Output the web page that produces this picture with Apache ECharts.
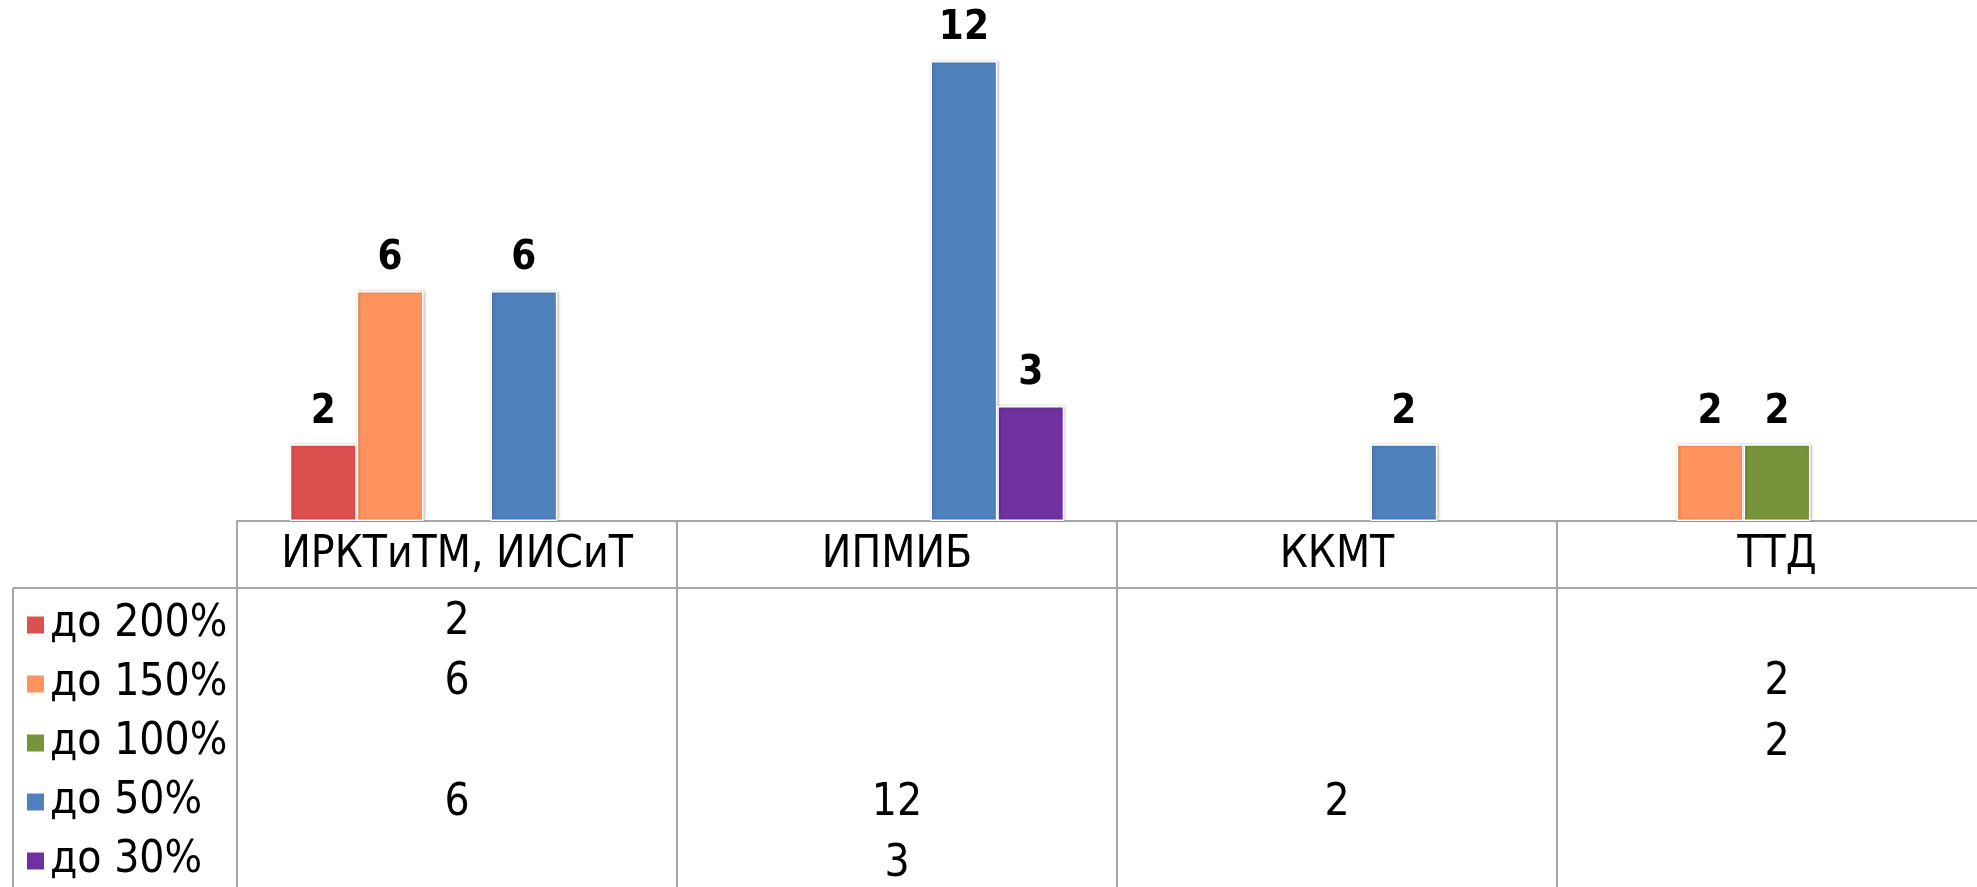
<!DOCTYPE html>
<html>
<head>
<meta charset="utf-8">
<script src="https://cdn.jsdelivr.net/npm/echarts@6/dist/echarts.min.js"></script>
<style>html,body{margin:0;padding:0;background:#fff;}#c{width:1977px;height:887px;}</style>
</head>
<body>
<div id="c"></div>
<script>
const categories = ['ИРКТиТМ, ИИСиТ', 'ИПМИБ', 'ККМТ', 'ТТД'];
const seriesNames = ['до 200%', 'до 150%', 'до 100%', 'до 50%', 'до 30%'];
const v200 = [2, null, null, null];
const v150 = [6, null, null, 2];
const v100 = [null, null, null, 2];
const v50 = [6, 12, 2, null];
const v30 = [null, 3, null, null];
const seriesValues = [v200, v150, v100, v50, v30];
const colors = ['#DE5050', '#FF935E', '#77933C', '#4F81BD', '#7030A0'];

const FONT = '"DejaVu Sans Condensed", "DejaVu Sans", sans-serif';
const LINE = '#A6A6A6';
const HEADER_BOTTOM = 588;
const ROW_H = 60.5;
const ROW_OFFSET = 4;
const TABLE_LEFT = 13;
const H = 887, W = 1977;
const TXT = 44;

const chart = echarts.init(document.getElementById('c'));
chart.setOption({
  animation: false,
  color: colors,
  grid: { left: 237, top: 61, right: -20, bottom: 366, containLabel: false, outerBoundsMode: 'none' },
  legend: {
    orient: 'vertical',
    left: 25,
    top: 603,
    height: 330,
    padding: 0,
    icon: 'rect',
    itemWidth: 19,
    itemHeight: 19,
    itemGap: 15,
    data: seriesNames,
    textStyle: { fontFamily: FONT, fontSize: TXT, color: '#000', lineHeight: 38 }
  },
  xAxis: {
    type: 'category',
    data: categories,
    axisLine: { show: true, lineStyle: { color: LINE, width: 2 } },
    axisTick: { show: false },
    axisLabel: { interval: 0, margin: 13, fontFamily: FONT, fontSize: TXT, color: '#000' }
  },
  yAxis: {
    type: 'value', min: 0, max: 12, show: false,
    splitLine: { show: false }
  },
  series: seriesNames.map((name, i) => ({
    name: name,
    type: 'bar',
    data: seriesValues[i],
    barGap: 0,
    barCategoryGap: '24%',
    itemStyle: { color: colors[i], borderColor: '#fff', borderWidth: 1.5,
      shadowBlur: 3, shadowColor: 'rgba(0,0,0,0.25)', shadowOffsetX: 1, shadowOffsetY: 0 },
    label: { show: true, position: 'top', distance: 12, fontFamily: FONT,
      fontWeight: 'bold', fontSize: 40, color: '#000' }
  }))
});

// build the data table under the plot
const c0 = chart.convertToPixel({ xAxisIndex: 0 }, 0);
const c1 = chart.convertToPixel({ xAxisIndex: 0 }, 1);
const band = c1 - c0;
const axisY = chart.convertToPixel({ yAxisIndex: 0 }, 0);
const graphics = [];
graphics.push({ type: 'line', shape: { x1: TABLE_LEFT, y1: HEADER_BOTTOM, x2: W, y2: HEADER_BOTTOM },
  style: { stroke: LINE, lineWidth: 2 }, silent: true });
graphics.push({ type: 'line', shape: { x1: TABLE_LEFT, y1: HEADER_BOTTOM, x2: TABLE_LEFT, y2: H },
  style: { stroke: LINE, lineWidth: 2 }, silent: true });
for (let k = 0; k <= categories.length; k++) {
  const x = Math.round(c0 - band / 2 + k * band);
  if (x > W) continue;
  graphics.push({ type: 'line', shape: { x1: x, y1: axisY, x2: x, y2: H },
    style: { stroke: LINE, lineWidth: 2 }, silent: true });
}
seriesValues.forEach((vals, r) => {
  vals.forEach((v, ci) => {
    if (v === null || v === undefined) return;
    const cx = chart.convertToPixel({ xAxisIndex: 0 }, ci);
    graphics.push({ type: 'text', x: cx, y: HEADER_BOTTOM + ROW_OFFSET + ROW_H * (r + 0.5), silent: true,
      style: { text: String(v), fontFamily: FONT, fontSize: TXT, fill: '#000',
        align: 'center', verticalAlign: 'middle' } });
  });
});
chart.setOption({ graphic: graphics });
</script>
</body>
</html>
